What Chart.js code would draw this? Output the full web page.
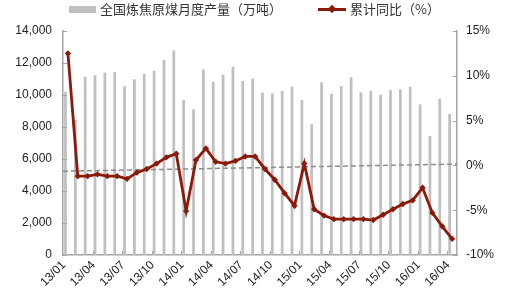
<!DOCTYPE html>
<html>
<head>
<meta charset="utf-8">
<script src="https://cdn.jsdelivr.net/npm/chart.js@4.4.0/dist/chart.umd.min.js"></script>
<style>
  html, body { margin: 0; padding: 0; background: #fff; }
  #wrap { position: relative; width: 506px; height: 294px; }
  #legend { position: absolute; top: 0; left: 0; width: 506px; height: 20px;
            font-family: "Noto Sans CJK SC", sans-serif; font-size: 13px; color: #333; }
  .item { position: absolute; top: 0; line-height: 18px; white-space: nowrap; }
  .box { position: absolute; top: 6px; width: 27px; height: 7px; background: #c0c0c0; }
  .ln { position: absolute; top: 8px; width: 28px; height: 3px; background: #8b1a0b; }
  .dm { position: absolute; top: -2px; left: 11px; width: 6px; height: 6px; background: #8b1a0b; transform: rotate(45deg); }
</style>
</head>
<body>
<div id="wrap">
  <canvas id="chart" width="506" height="294"></canvas>
  <div id="legend">
    <div class="box" style="left:69px"></div>
    <div class="item" style="left:100px">全国炼焦原煤月度产量（万吨）</div>
    <div class="ln" style="left:318px"><div class="dm"></div></div>
    <div class="item" style="left:350px">累计同比（%）</div>
  </div>
</div>
<script>
// months 13/01 .. 16/04
const months = [];
for (let y = 13; y <= 16; y++) {
  for (let m = 1; m <= 12; m++) {
    if (y === 16 && m > 4) break;
    months.push(y + '/' + String(m).padStart(2, '0'));
  }
}

// 全国炼焦原煤月度产量（万吨）
const output = [
  10200, 8450, 11150, 11230, 11400, 11440, 10540, 10980, 11310, 11520, 12190, 12790,
  9690, 9100, 11600, 10830, 11270, 11770, 10880, 11020, 10150, 10100, 10250, 10520,
  9690, 8170, 10790, 10080, 10560, 11100, 10170, 10270, 10020, 10310, 10350, 10520,
  9420, 7440, 9770, 8810
];

// 累计同比（%）
const yoy = [
  12.5, -1.2, -1.2, -1.0, -1.2, -1.2, -1.5, -0.8, -0.4, 0.2, 0.9, 1.3,
  -5.1, 0.6, 1.9, 0.4, 0.2, 0.5, 1.0, 1.0, -0.4, -1.6, -3.1, -4.5,
  0.2, -4.9, -5.6, -6.0, -6.0, -6.0, -6.0, -6.1, -5.5, -4.9, -4.3, -3.9,
  -2.5, -5.3, -6.8, -8.2
];

// dashed trend line, value at left and right edge (%)
const trendEnds = [-0.65, 0.15];

const leftTicks = [0, 2000, 4000, 6000, 8000, 10000, 12000, 14000];
const rightTicks = [-10, -5, 0, 5, 10, 15];

const axisColor = '#a6a6a6';
const tickFont = { family: '"Liberation Sans", Arial, sans-serif', size: 12 };

// draw short tick marks pointing into the plot
const innerTicks = {
  id: 'innerTicks',
  afterDraw(chart) {
    const ctx = chart.ctx, a = chart.chartArea;
    const { x, y, y1 } = chart.scales;
    ctx.save();
    ctx.strokeStyle = axisColor;
    ctx.lineWidth = 1;
    ctx.beginPath();
    leftTicks.forEach(v => {
      const p = Math.round(y.getPixelForValue(v)) + 0.5;
      ctx.moveTo(a.left, p); ctx.lineTo(a.left + 4, p);
    });
    rightTicks.forEach(v => {
      const p = Math.round(y1.getPixelForValue(v)) + 0.5;
      ctx.moveTo(a.right, p); ctx.lineTo(a.right - 4, p);
    });
    const step = (a.right - a.left) / months.length;
    for (let i = 3; i < months.length; i += 3) {
      const p = Math.round(a.left + step * i) + 0.5;
      ctx.moveTo(p, a.bottom); ctx.lineTo(p, a.bottom - 4);
    }
    ctx.stroke();
    ctx.restore();
  }
};

new Chart(document.getElementById('chart'), {
  data: {
    labels: months,
    datasets: [
      {
        type: 'line',
        data: yoy,
        yAxisID: 'y1',
        borderColor: '#8b1a0b',
        backgroundColor: '#8b1a0b',
        borderWidth: 2.8,
        pointStyle: 'rectRot',
        pointRadius: 3.2,
        pointBorderWidth: 0,
        tension: 0,
        order: 0
      },
      {
        type: 'line',
        data: [{ x: 0, y: trendEnds[0] }, { x: 1, y: trendEnds[1] }],
        xAxisID: 'xt',
        yAxisID: 'y1',
        borderColor: '#8c8c8c',
        borderWidth: 1.5,
        borderDash: [5, 3],
        pointRadius: 0,
        order: 1
      },
      {
        type: 'bar',
        data: output,
        yAxisID: 'y',
        backgroundColor: '#c0c0c0',
        categoryPercentage: 1,
        barPercentage: 0.56,
        order: 2
      }
    ]
  },
  options: {
    responsive: false,
    animation: false,
    layout: { padding: { top: 31, left: 0, right: 0, bottom: 0 } },
    plugins: { legend: { display: false }, tooltip: { enabled: false } },
    scales: {
      x: {
        type: 'category',
        offset: true,
        grid: { display: false, drawTicks: false },
        border: { color: axisColor, width: 1.5 },
        ticks: {
          autoSkip: false,
          minRotation: 45,
          maxRotation: 45,
          padding: 3,
          labelOffset: -4,
          color: '#222',
          font: tickFont,
          callback: (v, i) => (i % 3 === 0 ? months[i] : '')
        },
        afterFit: s => { s.height = 39; }
      },
      xt: { type: 'linear', display: false, min: 0, max: 1 },
      y: {
        position: 'left',
        min: 0,
        max: 14000,
        grid: { display: false, drawTicks: false },
        border: { color: axisColor, width: 1.5 },
        ticks: {
          stepSize: 2000,
          padding: 11,
          color: '#222',
          font: tickFont,
          callback: v => v.toLocaleString('en-US')
        },
        afterFit: s => { s.width = 63; }
      },
      y1: {
        position: 'right',
        min: -10,
        max: 15,
        grid: { display: false, drawTicks: false },
        border: { color: axisColor, width: 1.5 },
        ticks: {
          stepSize: 5,
          padding: 9,
          color: '#222',
          font: tickFont,
          callback: v => v + '%'
        },
        afterFit: s => { s.width = 49; }
      }
    }
  },
  plugins: [innerTicks]
});
</script>
</body>
</html>
